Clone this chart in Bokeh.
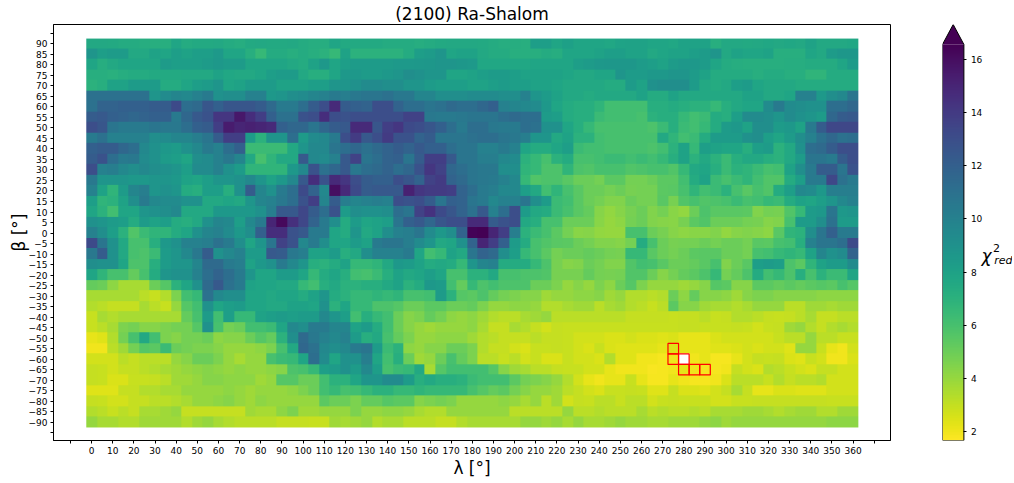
import numpy as np
from bokeh.embed import file_html
from bokeh.resources import INLINE
from bokeh.plotting import figure
from bokeh.layouts import row
from bokeh.core.properties import value
from bokeh.models import LinearColorMapper, FixedTicker
from bokeh.palettes import Viridis256

TITLE = "(2100) Ra-Shalom"
LAMBDA_TICKS = list(range(-10, 371, 10))
BETA_TICKS = list(range(-95, 96, 5))
CB_TICKS = [2, 4, 6, 8, 10, 12, 14, 16]
CB_LOW, CB_HIGH = 1.67, 16.56
RED_LAMBDA = [275, 275, 280, 280, 285, 290]
RED_BETA = [-55, -60, -60, -65, -65, -65]

# reduced chi-square x 10, lambda = 0..360 step 5
B90 = [76,76,75,74,74,73,72,72,78,74,75,75,76,74,73,75,76,75,75,76,74,73,73,78, 75,75,75,75,74,74,74,73,74,75,76,76,76,75,74,73,73,72, 82,82,78,81,78,78,78,77,79,80,80,78,78, 77,80,80,80,72,76,76,75,76,77,76,77,76,80,76,76,76,77]
B85 = [88,82,84,84,76,76,80,78,82,80,82,82,85,78,78,72,66,74,74,72,74,72,70,66, 80,70,70,70,70,70,74,82,84,88,78,80,80,76,74,74,72,72,72,74,73,78,78,78,80,82,82,80,80,76,78, 80,80,82,84,88,76,80,78,78,80,72,72,72,78,76,84,87,87]
B80 = [78,73,76,78,78,78,78,84,82,82,82,84,86,84,84,78,78,78,78,76,74,80,86,78, 82,84,84,84,84,85,85,86,87,88,88,87,85,77,77,77,77,77,78,78,78,78,82,84,86,87,87,87,84,82,80, 84,86,86,84,78,74,73,72,72,72,72,73,73,74,74,74,78,84]
B75 = [72,72,71,73,74,74,75,75,75,76,76,76,80,77,76,76,78,82,84,84,76,72,72,78, 86,86,84,84,86,88,92,90,88,88,78,78,80,82,84,84,82,80,80,80,80,78,76,76,78,78,88,84,84,86,86, 88,88,84,80,74,74,74,74,72,74,74,72,72,68,68,74,74,74]
B70 = [70,72,80,80,84,84,84,74,74,78,82,84,88,78,80,84,84,84,80,80,80,82,82,88, 88,90,94,94,92,92,88,88,84,82,82,82,80,80,82,84,82,82,80,80,78,76,76,76,76,74,74,84,80,90,92, 92,92,84,76,74,76,82,84,78,76,76,76,74,74,74,74,74,74]
B65 = [110,110,110,110,110,110,88,94,98,96,100,104,90,92,92,100,100,86,88,92,94,98,100,104, 102,106,108,108,110,106,106,98,98,92,92,92,94,94,94,92,92,100,88,84,80,76,76,74,76,76,76,76,80,74,74, 80,76,76,76,76,76,76,80,80,76,76,78,100,100,85,92,96,108]
B60 = [110,118,118,120,120,120,122,122,132,112,114,126,120,126,126,126,122,114,104,104,112,122,130,148, 122,120,118,130,130,118,112,112,108,110,114,112,112,116,120,100,98,96,94,86,78,74,72,72,68,62,62,62,62,72,72, 74,72,70,70,66,72,76,78,78,94,104,94,92,90,90,112,112,116]
B55 = [122,124,120,118,116,118,120,120,104,116,124,128,142,142,156,146,138,120,110,110,128,130,146,130, 128,130,130,130,130,130,136,136,106,104,104,106,108,108,108,112,114,112,112,84,82,74,72,72,64,62,62,62,60,70,72, 72,66,62,64,74,72,82,94,94,92,88,94,90,88,84,116,122,124]
B50 = [130,126,108,104,104,104,108,106,106,112,120,122,138,154,150,152,150,148,120,116,116,108,116,122, 124,148,148,126,138,142,132,130,126,120,112,104,112,112,106,104,104,112,110,90,90,78,72,66,60,60,60,60,60,58,64, 72,64,62,66,74,84,86,80,92,92,84,86,80,104,122,134,134,134]
B45 = [104,110,100,100,100,100,92,94,98,98,102,108,122,138,138,84,70,88,88,112,84,94,96,104, 130,140,124,130,140,128,128,118,122,108,108,108,110,112,112,108,106,102,88,88,76,80,70,70,62,60,60,60,60,60,76, 68,62,64,74,84,84,84,90,92,82,78,84,92,100,110,116,110,112]
B40 = [120,122,122,116,112,96,90,86,84,90,96,104,100,112,120,64,64,64,64,76,88,96,96,108, 112,116,110,114,118,122,118,124,120,120,112,108,108,100,100,104,100,78,74,74,78,82,64,62,62,60,60,60,60,58,62, 70,80,66,82,80,78,78,72,82,84,70,76,90,112,114,122,130,130]
B35 = [122,128,112,104,106,94,90,84,82,78,92,94,100,106,98,76,60,68,76,76,124,96,94,100, 124,136,108,112,118,120,108,122,138,138,124,108,108,102,102,96,94,70,66,60,70,74,60,60,62,64,64,62,64,62,66, 72,80,70,76,70,64,72,76,76,72,70,76,84,108,108,104,122,130]
B30 = [130,100,102,96,92,96,92,90,88,82,94,94,100,90,84,68,68,68,68,86,96,128,110,116, 124,106,112,114,118,112,116,128,142,136,116,112,108,106,106,92,92,68,66,58,58,68,58,57,60,60,60,57,58,60,60, 57,66,76,78,72,64,70,68,64,60,62,80,92,104,122,122,108,128]
B25 = [106,88,88,88,86,86,88,88,86,80,78,82,88,88,90,96,88,80,86,96,124,146,128,148, 142,130,122,120,120,130,126,118,136,140,118,114,108,106,104,100,96,66,57,58,58,55,50,50,48,54,54,48,48,50,54, 54,62,74,80,64,60,64,68,62,57,57,74,82,104,104,134,110,104]
B20 = [100,80,68,84,98,102,88,90,88,74,72,82,82,72,90,122,98,90,104,112,132,118,96,160, 148,132,122,124,124,124,152,142,140,140,138,118,112,104,102,96,96,82,76,62,68,60,55,50,50,48,50,47,48,48,54, 55,60,68,62,64,70,60,55,60,57,74,82,96,94,86,102,102,102]
B15 = [82,68,70,80,92,104,96,94,94,90,90,76,76,78,76,88,98,100,106,112,128,138,98,122, 102,98,100,102,100,130,128,130,122,108,120,118,108,104,96,100,100,108,92,84,64,62,55,50,48,45,45,50,48,48,55, 47,57,60,57,58,60,64,60,62,66,64,74,80,78,82,88,96,100]
B10 = [78,70,62,78,78,88,90,92,96,76,76,76,86,86,86,86,90,102,124,124,134,122,112,128, 84,92,90,90,92,112,108,136,144,132,126,118,110,124,100,112,130,84,76,74,64,60,55,52,44,41,44,47,50,45,48, 43,41,50,58,55,55,55,54,45,48,47,57,66,84,86,108,86,88]
B5 = [90,88,84,82,74,84,80,82,74,72,76,90,98,96,82,96,104,150,162,145,134,118,105,92, 74,84,78,80,82,108,120,124,116,126,130,130,148,148,122,128,130,76,72,60,60,50,50,50,43,40,42,48,50,45,44, 43,47,54,57,50,50,50,48,47,44,45,60,84,84,92,110,84,84]
B0 = [100,92,82,70,57,64,68,68,74,78,90,98,100,94,86,92,120,146,146,128,124,104,104,78, 74,88,76,80,92,100,102,108,94,86,92,118,164,166,150,138,102,70,64,60,54,48,43,44,41,40,40,60,60,50,47, 44,42,43,43,45,41,44,45,44,42,55,68,70,92,108,120,104,104]
Bm5 = [132,108,90,76,60,60,72,86,90,100,100,102,110,104,92,78,88,108,136,128,96,104,92,78, 78,84,80,104,108,108,102,94,88,76,78,90,118,150,138,120,84,74,60,57,55,54,50,48,45,45,44,48,74,60,50, 47,48,48,50,48,50,50,48,55,54,60,62,72,100,108,108,112,132]
Bm10 = [106,122,90,76,60,58,64,84,88,96,106,122,90,96,100,84,84,124,122,106,102,80,80,84, 72,76,92,100,100,100,104,78,62,66,80,76,108,118,114,92,82,66,60,54,48,50,50,52,50,48,47,66,66,55,50, 48,50,54,55,55,50,50,48,60,62,66,68,66,80,98,90,94,118]
Bm15 = [92,90,90,78,58,58,72,84,88,88,98,114,114,104,102,80,86,90,104,96,88,72,70,74, 80,66,66,68,76,86,84,80,74,76,74,66,88,98,100,74,74,74,66,58,47,44,45,50,48,45,45,57,62,60,55, 50,50,52,55,60,45,50,55,82,84,82,58,54,68,80,84,84,94]
Bm20 = [78,68,60,60,52,60,74,88,90,90,100,112,118,112,104,88,78,78,84,84,78,66,74,78, 72,62,60,64,72,80,76,78,82,78,60,60,70,70,76,60,60,58,58,57,47,47,47,52,48,47,48,57,57,50,44, 48,52,54,58,66,48,52,58,74,62,66,58,72,60,70,64,64,78]
Bm25 = [52,50,42,36,36,36,50,56,70,78,90,114,124,110,104,80,78,78,76,76,66,62,72,76, 70,70,72,72,76,80,70,74,86,84,62,52,66,58,62,58,58,58,50,50,46,40,44,40,46,42,50,56,46,40,40, 40,38,40,44,56,54,44,44,54,54,52,54,52,54,56,54,60,56]
Bm30 = [36,36,36,36,36,32,29,34,46,62,66,110,96,92,92,78,78,76,78,78,74,80,88,74, 70,66,66,68,66,68,60,60,62,84,70,56,54,58,52,48,46,44,44,38,40,40,42,42,44,38,40,34,34,32,34, 50,42,52,44,44,42,38,44,46,46,44,44,44,44,42,42,42,42]
Bm35 = [34,32,30,30,30,36,32,29,40,56,62,90,78,82,84,78,78,76,76,80,80,78,90,70, 78,66,66,58,58,56,50,50,54,54,50,50,52,46,40,40,42,42,40,34,34,36,38,38,32,36,38,34,32,29,32, 54,44,44,38,36,36,34,36,40,40,40,32,32,38,38,36,38,38]
Bm40 = [29,36,34,36,36,36,36,36,36,52,60,84,62,82,66,66,80,82,84,82,84,84,96,88, 82,62,72,66,62,50,44,46,52,48,42,40,42,38,34,32,32,36,38,40,32,32,32,32,32,32,32,30,30,30,30, 29,30,30,32,29,30,34,34,32,30,29,30,32,36,30,30,32,32]
Bm45 = [29,32,36,46,48,44,44,46,48,48,56,90,60,48,50,62,62,64,78,96,92,104,104,98, 98,80,84,74,62,50,44,40,38,40,40,40,42,36,30,30,36,34,30,27,30,29,29,29,29,29,29,29,29,29,29, 29,30,30,29,29,29,30,29,27,29,30,38,40,34,30,34,36,34]
Bm50 = [22,24,34,48,60,76,62,46,44,48,48,50,42,44,44,50,56,52,70,92,114,106,100,96, 100,84,72,76,60,52,46,40,40,42,42,42,38,34,32,30,30,30,32,30,30,29,27,27,27,25,25,27,25,25,24, 25,22,22,22,25,27,27,27,27,27,29,32,32,40,32,32,29,29]
Bm55 = [20,20,32,38,48,56,54,64,50,48,46,46,44,40,40,40,42,46,60,76,116,110,96,92, 96,104,108,84,64,70,42,40,44,44,50,50,46,34,30,30,27,25,29,29,30,29,27,25,29,25,24,24,24,24,22, 24,22,22,22,24,24,25,27,25,27,27,24,40,40,29,22,20,27]
Bm60 = [27,27,27,32,30,32,32,32,40,44,50,50,46,40,36,40,40,60,64,66,78,112,94,78, 90,90,102,78,62,72,50,38,40,50,60,52,46,32,32,29,32,27,29,25,25,29,27,27,25,34,24,24,20,20,19, 20,None,20,22,19,19,22,27,30,29,30,25,24,29,27,20,20,25]
Bm65 = [30,29,27,30,30,32,34,36,38,40,42,44,42,40,42,40,40,42,44,58,60,66,82,84, 90,84,96,82,60,64,66,76,36,56,62,62,62,62,56,44,38,36,32,32,30,29,29,27,27,22,20,20,20,18,19, 20,22,20,19,19,20,30,27,25,34,32,29,27,25,30,30,27,27]
Bm70 = [30,29,25,25,29,29,30,32,38,38,40,44,44,42,42,42,38,40,56,56,50,50,62,70, 70,78,88,88,94,94,84,72,76,72,72,70,64,62,62,62,54,48,46,44,40,34,27,22,20,22,22,29,22,19,19, 22,20,19,19,20,25,32,32,32,29,34,30,32,32,34,27,27,27]
Bm75 = [24,24,24,30,30,34,34,36,36,40,40,40,40,42,40,38,40,40,40,42,46,50,62,66, 60,62,66,70,70,66,66,68,66,66,66,66,60,56,52,54,48,44,40,40,38,32,30,27,25,29,29,30,29,24,24, 30,25,25,24,27,30,36,30,22,22,25,25,24,24,24,27,27,27]
Bm80 = [30,29,27,27,30,30,32,32,34,36,40,40,42,44,40,38,42,40,40,40,40,40,54,50, 50,46,52,52,56,54,54,44,46,48,46,40,40,40,40,42,40,36,40,32,38,27,30,29,32,32,29,32,32,27,29, 30,29,29,29,27,27,29,29,30,30,30,30,30,30,30,29,29,29]
Bm85 = [34,32,29,32,30,36,36,38,40,30,30,30,30,30,30,38,36,36,42,46,38,38,40,40, 40,46,40,40,42,42,40,36,34,34,40,40,40,40,40,40,32,32,32,32,32,40,32,32,34,32,32,32,36,32,34, 32,32,34,32,36,36,36,38,38,36,34,36,38,38,34,34,38,38]
Bm90 = [40,36,36,34,34,38,38,38,38,34,38,40,36,34,32,32,32,32,30,30,30,29,29,38, 36,38,40,34,36,36,32,32,32,30,30,34,36,36,36,36,36,40,40,38,40,36,40,36,36,38,40,38,38,36,36, 38,38,38,40,42,38,40,40,40,40,40,40,40,40,40,42,42,42]

ROWS = [B90,B85,B80,B75,B70,B65,B60,B55,B50,B45,B40,B35,B30,B25,B20,B15,B10,B5,B0,
        Bm5,Bm10,Bm15,Bm20,Bm25,Bm30,Bm35,Bm40,Bm45,Bm50,Bm55,Bm60,Bm65,Bm70,Bm75,Bm80,Bm85,Bm90]
bad = [(i, len(r)) for i, r in enumerate(ROWS) if len(r) != 73]
assert not bad, bad
grid = np.array(ROWS, dtype=float)[::-1] / 10.0

FONT = "DejaVu Sans"
mapper = LinearColorMapper(palette=list(Viridis256[::-1]), low=CB_LOW, high=CB_HIGH, nan_color="#ffffff")

p = figure(width=881, height=467, frame_width=837, frame_height=416,
           x_range=(-18, 377.7), y_range=(-98.7, 99.2),
           output_backend="svg", toolbar_location=None,
           min_border_left=40, min_border_right=2, min_border_top=17, min_border_bottom=34,
           title=TITLE, margin=(0, 0, 0, 5))
p.title.align = "center"
p.title.text_font = FONT
p.title.text_font_size = "17px"
p.title.text_font_style = "normal"
p.title.text_color = "#000000"
p.title.standoff = 2
p.grid.visible = False
p.outline_line_color = "#000000"
p.outline_line_width = 1
p.image(image=[grid], x=-2.5, y=-92.5, dw=365, dh=185, color_mapper=mapper)
p.rect(x=RED_LAMBDA, y=RED_BETA, width=5, height=5, fill_color=None, line_color="#ff0000", line_width=1.2)

p.xaxis.ticker = FixedTicker(ticks=LAMBDA_TICKS)
p.yaxis.ticker = FixedTicker(ticks=BETA_TICKS)
p.xaxis.major_label_overrides = {-10: "", 370: ""}
p.yaxis.major_label_overrides = {-95: "", 95: ""}
p.xaxis.axis_label = "λ [°]"
p.yaxis.axis_label = "β [°]"
for ax in (p.xaxis[0], p.yaxis[0]):
    ax.axis_label_text_font = FONT
    ax.axis_label_text_font_size = "17px"
    ax.axis_label_text_font_style = "normal"
    ax.axis_label_text_color = "#000000"
    ax.major_label_text_font = FONT
    ax.major_label_text_font_size = "9px"
    ax.major_label_text_color = "#000000"
    ax.major_tick_in = 0
    ax.major_tick_out = 3
    ax.minor_tick_in = 0
    ax.minor_tick_out = 0
    ax.major_label_standoff = 3
    ax.axis_label_standoff = 2
    ax.axis_line_color = "#000000"
    ax.major_tick_line_color = "#000000"
p.yaxis[0].axis_label_standoff = -3
p.xaxis[0].axis_label_standoff = 1

# colour bar: the bar fills x = 0..1, the frame runs on to the right to hold its label
CB_TOP = 17.31
BAR_PX = 21.4
FRAME_PX = 70
cb = figure(width=120, height=467, frame_width=FRAME_PX, frame_height=416,
            x_range=(0, FRAME_PX / BAR_PX), y_range=(CB_LOW, CB_TOP),
            output_backend="svg", toolbar_location=None,
            min_border_left=50, min_border_right=0, min_border_top=17, min_border_bottom=34,
            x_axis_location=None, y_axis_location="right")
cb.grid.visible = False
cb.outline_line_color = None
levels = np.linspace(CB_LOW, CB_HIGH, 256).reshape(-1, 1)
cb.image(image=[levels], x=0, y=CB_LOW, dw=1, dh=CB_HIGH - CB_LOW, color_mapper=mapper)
cb.patch(x=[0, 0.5, 1], y=[CB_HIGH, CB_TOP, CB_HIGH], fill_color="#440154", line_color=None)
cb.line(x=[0, 0, 0.5, 1, 1, 0], y=[CB_LOW, CB_HIGH, CB_TOP, CB_HIGH, CB_LOW, CB_LOW], line_color="#000000", line_width=1)
cb.yaxis.ticker = FixedTicker(ticks=CB_TICKS)
ya = cb.yaxis[0]
ya.fixed_location = 1
ya.axis_line_color = None
ya.major_tick_in = 0
ya.major_tick_out = 3
ya.minor_tick_in = 0
ya.minor_tick_out = 0
ya.major_label_text_font = FONT
ya.major_label_text_font_size = "9px"
ya.major_label_text_color = "#000000"
ya.major_label_standoff = 4

CHI_X = [1.82, 2.36, 2.42]
CHI_Y = [8.62, 8.92, 8.45]
CHI_TXT = ["χ", "2", "red"]
CHI_SIZE = ["17px", "11px", "11px"]
CHI_STYLE = ["italic", "normal", "italic"]
cb.text(x=CHI_X, y=CHI_Y, text=CHI_TXT, text_font=value(FONT), text_font_style=CHI_STYLE,
        text_font_size=CHI_SIZE, text_color="#000000", text_baseline="middle", text_align="left")

open("out.html", "w").write(file_html(row(p, cb), INLINE))
